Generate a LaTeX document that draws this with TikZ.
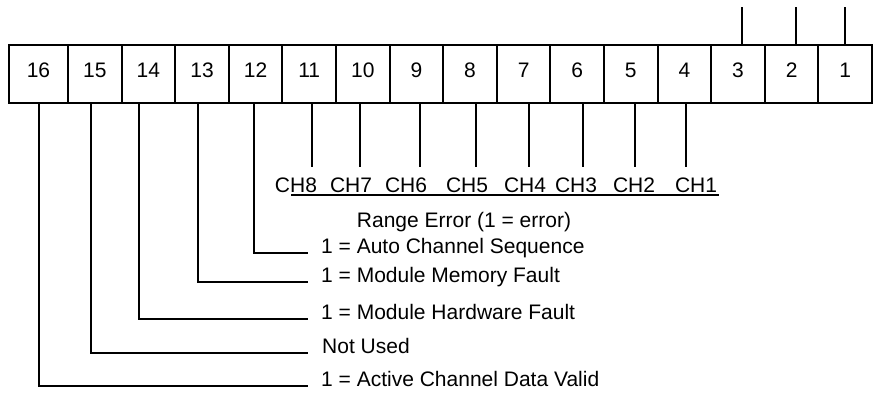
\documentclass[tikz,border=0pt]{standalone}
\usepackage{fontspec}
\setmainfont{Liberation Sans}
\usetikzlibrary{positioning}
\tikzset{
  cell/.style={draw, line width=2pt, minimum width=53.6pt, minimum height=58pt, text depth=8pt, inner sep=0pt, outer sep=0pt},
  lbl/.style={anchor=base west, inner xsep=13pt, inner ysep=0pt},
  wire/.style={line width=2pt}
}
\begin{document}
\begin{tikzpicture}[x=1pt, y=-1pt, font=\fontsize{21}{25}\selectfont]
\useasboundingbox (0,0) rectangle (874,393);
% Status word
\node[cell, minimum width=59pt] (b16) at (38.5,74) {16};
\foreach \i [remember=\i as \j (initially 16)] in {15,...,1}
  \node[cell, right=0pt of b\j] (b\i) {\i};
% Bits 3, 2, 1
\coordinate (t3) at (742,7);
\coordinate (t2) at (796,7);
\coordinate (t1) at (845,7);
\draw[wire] (b3.north -| t3) -- (t3);
\draw[wire] (b2.north -| t2) -- (t2);
\draw[wire] (b1.north -| t1) -- (t1);
% Range error bits
\foreach \b/\x in {11/312,10/360,9/420,8/476,7/529,6/583,5/635,4/686} {
  \coordinate (e\b) at (\x,167);
  \draw[wire] (b\b.south -| e\b) -- (e\b);
}
\foreach \n/\x in {8/296,7/351,6/406,5/467,4/525,3/576,2/634,1/696}
  \node[anchor=base] (ch\n) at (\x,192) {CH\n};
\draw[wire] (291,195) -- (719,195);
\node[anchor=base] (range) at (464,227) {Range Error (1 = error)};
% Status bits
\node[lbl] (l12) at (308,253) {1 = Auto Channel Sequence};
\node[lbl] (l13) at (308,282) {1 = Module Memory Fault};
\node[lbl] (l14) at (308,319) {1 = Module Hardware Fault};
\node[lbl, inner xsep=14pt] (l15) at (308,353) {Not Used};
\node[lbl] (l16) at (308,386) {1 = Active Channel Data Valid};
\draw[wire] ([xshift=-2pt]b12.south) |- (l12.base west);
\draw[wire] ([xshift=-4pt]b13.south) |- (l13.base west);
\draw[wire] ([xshift=-9pt]b14.south) |- (l14.base west);
\draw[wire] ([xshift=-4pt]b15.south) |- (l15.base west);
\draw[wire] (b16.south) |- (l16.base west);
\end{tikzpicture}
\end{document}
